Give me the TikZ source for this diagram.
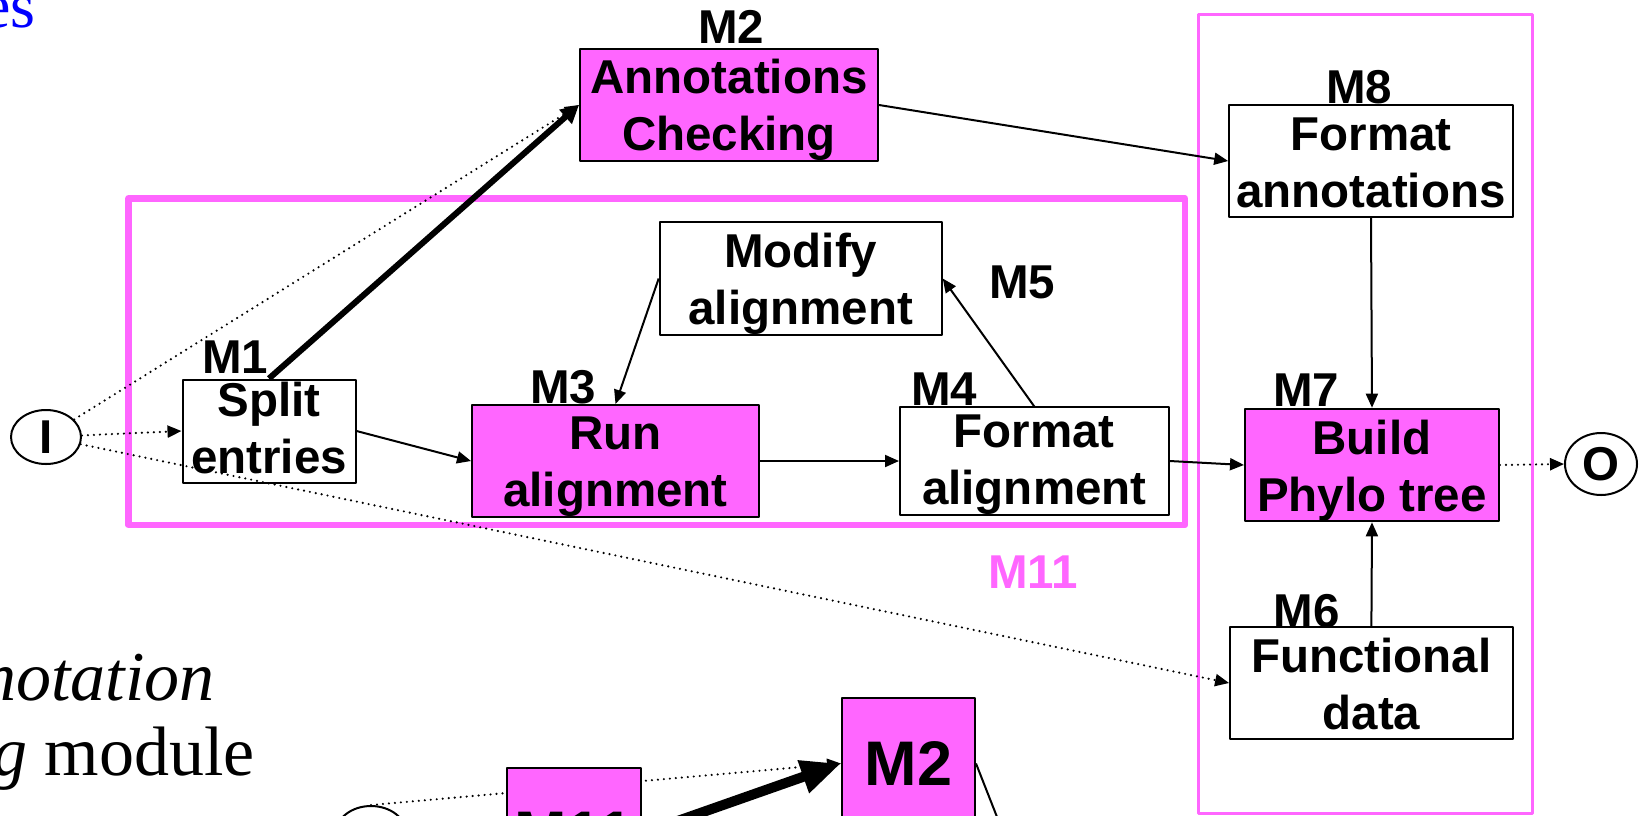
\documentclass[tikz,border=0pt]{standalone}
\usepackage{fontspec}
\setmainfont{Liberation Serif}
\newfontfamily\arialfont{Liberation Sans}
\usetikzlibrary{arrows.meta,shapes.geometric}
\definecolor{modpink}{RGB}{255,102,255}
\definecolor{slideblue}{RGB}{0,0,255}
% two centred lines with fixed height and depth
\newcommand{\twolines}[3][22.5pt]{\rule{0pt}{#1}#2\\#3\rule[-4.5pt]{0pt}{4.5pt}}

\begin{document}
\begin{tikzpicture}[x=0.5pt,y=-0.5pt,line join=round,
  box/.style={draw=black,line width=1pt,inner sep=0pt,align=center,
    font=\arialfont\fontsize{23.75}{28.5}\selectfont\bfseries},
  pinkbox/.style={box,fill=modpink},
  modlabel/.style={inner sep=0pt,anchor=base,
    font=\arialfont\fontsize{23.75}{28.5}\selectfont\bfseries},
  io/.style={draw,ellipse,line width=1pt,inner sep=0pt,
    font=\arialfont\fontsize{23.75}{28.5}\selectfont\bfseries},
  link/.style={line width=1pt,-{Triangle[length=7pt,width=6pt]}},
  dots/.style={line width=1.2pt,line cap=round,dash pattern=on 0pt off 3pt,
    -{Triangle[length=7pt,width=6pt]}},
  heavy/.style={line width=3pt,-{Triangle[length=9pt,width=9pt]}},
  bigarrow/.style={line width=5pt,-{Triangle[length=20pt,width=16pt]}},
  slidetext/.style={inner sep=0pt,anchor=base east,font=\fontsize{35}{35}\selectfont}]
\useasboundingbox (0,0) rectangle (1639,815);
\clip (0,0) rectangle (1639,815);

% slide text on the left
\node[inner sep=0pt,anchor=base east,text=slideblue,font=\fontsize{32}{32}\selectfont] (title) at (36,27) {es};
\node[slidetext] (line1) at (215,700) {\textit{notation}};
\node[slidetext] (line2) at (255,775) {\textit{g} module};

% group frames
\draw[modpink,line width=3.25pt] (128.5,198.3) rectangle (1185,525);
\draw[modpink,line width=1.5pt] (1198,14) rectangle (1532.5,813);

% modules
\node[io,minimum width=35pt,minimum height=27pt] (in) at (46,437) {I};
\node[io,minimum width=36pt,minimum height=31pt] (out) at (1601,464) {O};
\node[box,minimum width=86.5pt,minimum height=51.5pt] (split) at (269,431) {\twolines[18.5pt]{Split}{entries}};
\node[pinkbox,minimum width=149pt,minimum height=56pt] (annot) at (729,105) {\twolines{Annotations}{Checking}};
\node[pinkbox,minimum width=143.5pt,minimum height=56pt] (run) at (615.5,461) {\twolines{Run}{alignment}};
\node[box,minimum width=141pt,minimum height=55.5pt] (modify) at (800.7,278.5) {\twolines{Modify}{alignment}};
\node[box,minimum width=134.3pt,minimum height=53pt] (fmtal) at (1034.3,461) {\twolines[20pt]{Format}{alignment}};
\node[box,minimum width=141.8pt,minimum height=55.8pt] (fmtan) at (1371,161) {\twolines{Format}{annotations}};
\node[pinkbox,minimum width=127pt,minimum height=56.3pt] (build) at (1372,465) {\twolines{Build}{Phylo tree}};
\node[box,minimum width=141.3pt,minimum height=56pt] (func) at (1371.4,683) {\twolines{Functional}{data}};

% module names
\foreach \t/\x/\y in {M1/235/373,M2/731/43,M3/563/403,M4/944/405,M5/1022/298,M6/1306.5/627,M7/1306/406,M8/1359/103}
  \node[modlabel] at (\x,\y) {\t};
\node[modlabel,text=modpink] (grpname) at (1033,588) {M11};

% connectors
\draw[dots] (in) -- (annot.west);
\draw[dots] (in) -- (split.west);
\draw[dots] (in) -- (func.west);
\draw[heavy] (split.north) -- (annot.west);
\draw[link] (split.east) -- (run.west);
\draw[link] (run.east) -- (fmtal.west);
\draw[link] (fmtal.north) -- (modify.east);
\draw[link] (modify.west) -- (run.north);
\draw[link] (fmtal.east) -- (build.west);
\draw[link] (annot.east) -- (fmtan.west);
\draw[link] (fmtan.south) -- (build.north);
\draw[link] (func.north) -- (build.south);
\draw[dots] (build.east) -- (out.west);

% lower copy, cut by the slide edge
\node[io,minimum width=35pt,minimum height=27pt] (lowin) at (371,833) {};
\node[pinkbox,minimum width=66.5pt,minimum height=65.5pt,font=\arialfont\fontsize{31.5}{31.5}\selectfont\bfseries] (lowannot) at (908.5,763.5) {M2};
\draw[dots] (lowin.north) -- (lowannot.west);
\node[pinkbox,minimum width=67pt,minimum height=65.5pt,font=\arialfont\fontsize{31.5}{31.5}\selectfont\bfseries] (lowgrp) at (574,833.5) {M11};
\draw[bigarrow] (lowgrp.east) -- (lowannot.west);
\coordinate (lowexit) at (1010,850);
\draw[line width=1pt] (lowannot.east) -- (lowexit);
\end{tikzpicture}
\end{document}
